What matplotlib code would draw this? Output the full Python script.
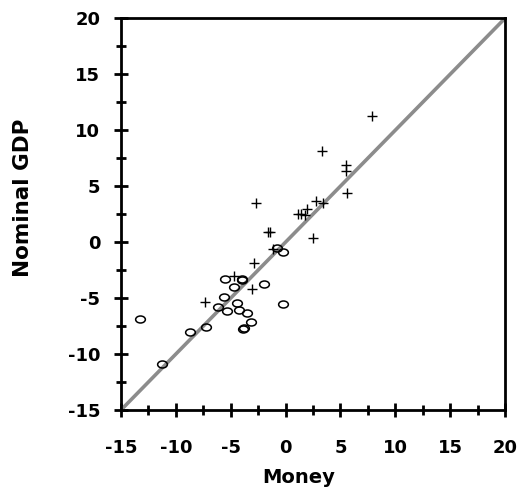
import matplotlib.pyplot as plt
from matplotlib.path import Path
from matplotlib.transforms import Affine2D
import numpy as np

plt.rcParams['font.family'] = ['DejaVu Sans']
plt.rcParams['font.weight'] = 'bold'
plt.rcParams['axes.unicode_minus'] = False

# Money vs Nominal GDP, two groups of observations
plus_money = [-2.73, -1.63, -1.42, -2.87, 3.35, 5.5, 5.5, 5.57, 7.88, 2.74, 3.4,
              1.92, 1.16, 1.4, 1.77, 2.53, -1.15, -7.35, -4.7, -3.06]
plus_gdp = [3.52, 0.87, 0.92, -1.88, 8.1, 6.92, 6.4, 4.41, 11.26, 3.66, 3.5,
            2.95, 2.47, 2.47, 2.45, 0.33, -0.6, -5.33, -3.04, -4.2]

circle_money = [-0.8, -0.21, -13.27, -11.24, -8.71, -7.26, -5.5, -4.0, -3.95,
                -4.67, -1.99, -5.59, -6.13, -5.37, -4.4, -4.22, -3.55, -3.15,
                -3.86, -3.8, -0.21]
circle_gdp = [-0.5, -0.87, -6.88, -10.9, -8.0, -7.57, -3.25, -3.3, -3.4,
              -3.99, -3.77, -4.89, -5.78, -6.17, -5.42, -6.02, -6.29, -7.15,
              -7.76, -7.7, -5.54]

line_ends = [-15, 20]
ticks = [-15, -10, -5, 0, 5, 10, 15, 20]

# slightly flattened circle marker
ellipse = Path.unit_circle().transformed(Affine2D().scale(1.0, 0.72))

fig = plt.figure(figsize=(5.19, 4.96), dpi=100, facecolor='white')
ax = fig.add_axes([121 / 519, 1 - 410 / 496, 384 / 519, 391.7 / 496])

ax.plot(line_ends, line_ends, color='#8c8c8c', linewidth=2.6, zorder=2,
        solid_capstyle='butt')
ax.plot(circle_money, circle_gdp, linestyle='none', marker=ellipse,
        markersize=7, markerfacecolor='none', markeredgecolor='black',
        markeredgewidth=1.1, zorder=3)
ax.plot(plus_money, plus_gdp, linestyle='none', marker='+', markersize=7,
        color='black', markeredgewidth=1.0, zorder=3)

ax.set_xlim(-15, 20)
ax.set_ylim(-15, 20)
ax.set_xticks(ticks)
ax.set_yticks(ticks)
ax.set_xticks(np.arange(-12.5, 20, 5), minor=True)
ax.set_yticks(np.arange(-12.5, 20, 5), minor=True)

for s in ax.spines.values():
    s.set_linewidth(2.0)

ax.tick_params(which='major', direction='inout', length=10, width=2.0,
               labelsize=13)
ax.tick_params(which='minor', direction='inout', length=7, width=2.0)
ax.tick_params(axis='x', which='major', pad=16)
ax.tick_params(axis='y', which='major', pad=10)
ax.tick_params(top=False, right=False, which='both')

ax.set_xlabel('Money', fontsize=14, fontweight='bold')
ax.set_ylabel('Nominal GDP', fontsize=15.5, fontweight='bold')
ax.xaxis.set_label_coords(0.464, -0.148)
ax.yaxis.set_label_coords(-0.228, 0.541)

plt.savefig('out.png', dpi=100, facecolor='white')
